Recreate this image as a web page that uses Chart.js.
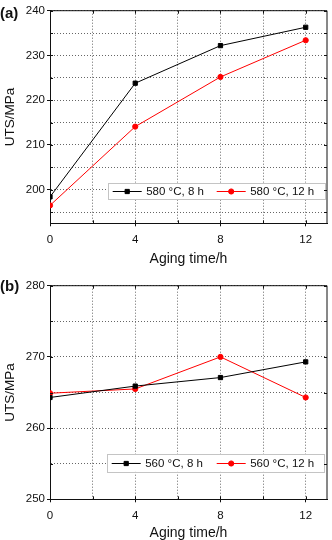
<!DOCTYPE html>
<html>
<head>
<meta charset="utf-8">
<script src="https://cdn.jsdelivr.net/npm/chart.js@4"></script>
<style>
  body { margin: 0; background: #fff; font-family: "Liberation Sans", Arial, sans-serif; }
  .panel { position: relative; width: 332px; height: 270px; }
  .panel canvas { display: block; }
  .tag { position: absolute; left: 0; font-weight: bold; font-size: 15px; color: #111; line-height: 1; }
</style>
</head>
<body>
<div class="panel"><span class="tag" style="top:5px">(a)</span><canvas id="chartA" width="332" height="270"></canvas></div>
<div class="panel"><span class="tag" style="top:8px">(b)</span><canvas id="chartB" width="332" height="270"></canvas></div>
<script>
// shared x data
const agingTime = [0, 4, 8, 12];
const xTickLabels = [0, 4, 8, 12];
const xGridValues = [0, 2, 4, 6, 8, 10, 12];

// panel (a)
const labelA8 = '580 °C, 8 h';
const labelA12 = '580 °C, 12 h';
const utsA8 = [198.4, 223.8, 232.2, 236.3];
const utsA12 = [196.5, 214.1, 225.2, 233.4];
const yTickLabelsA = [200, 210, 220, 230, 240];
const yGridValuesA = [195, 200, 205, 210, 215, 220, 225, 230, 235, 240];

// panel (b)
const labelB8 = '560 °C, 8 h';
const labelB12 = '560 °C, 12 h';
const utsB8 = [264.3, 265.9, 267.1, 269.3];
const utsB12 = [264.9, 265.5, 270.0, 264.3];
const yTickLabelsB = [250, 260, 270, 280];
const yGridValuesB = [250, 255, 260, 265, 270, 275, 280];

const FONT = '"Liberation Sans", Arial, sans-serif';

// legend box drawn inside the plot area
const boxLegend = {
  id: 'boxLegend',
  afterDatasetsDraw(chart, args, o) {
    const { ctx, chartArea } = chart;
    const x = chartArea.left + o.left;
    const y = chartArea.bottom - o.bottom - o.height;
    ctx.save();
    ctx.fillStyle = '#fff';
    ctx.fillRect(x, y, o.width, o.height);
    ctx.strokeStyle = '#c4c4c4';
    ctx.lineWidth = 1;
    ctx.strokeRect(Math.round(x) + 0.5, Math.round(y) + 0.5, Math.round(o.width), Math.round(o.height));
    const cy = Math.round(y + o.height / 2) + 0.5;
    chart.data.datasets.forEach((ds, i) => {
      const ix = x + o.items[i];
      ctx.strokeStyle = ds.borderColor;
      ctx.lineWidth = 1;
      ctx.beginPath();
      ctx.moveTo(ix, cy);
      ctx.lineTo(ix + 29, cy);
      ctx.stroke();
      ctx.fillStyle = ds.pointBackgroundColor;
      Chart.helpers.drawPoint(ctx, { pointStyle: ds.pointStyle, radius: ds.pointRadius, borderWidth: 1, rotation: 0 }, ix + 14.5, cy);
      ctx.fillStyle = '#111';
      ctx.font = '11.5px ' + FONT;
      ctx.textBaseline = 'middle';
      ctx.fillText(ds.label, ix + 33.5, cy + 0.5);
    });
    ctx.restore();
  }
};

// top/right edges of the plot box plus small inward ticks on every side
const frame = {
  id: 'frame',
  afterDraw(chart) {
    const { ctx, chartArea: a, scales } = chart;
    ctx.save();
    ctx.strokeStyle = '#111';
    ctx.lineWidth = 1;
    ctx.beginPath();
    ctx.moveTo(a.left, a.top);
    ctx.lineTo(a.right, a.top);
    ctx.lineTo(a.right, a.bottom);
    scales.x.ticks.forEach(t => {
      const px = Math.round(scales.x.getPixelForValue(t.value)) + 0.5;
      ctx.moveTo(px, a.bottom); ctx.lineTo(px, a.bottom - 3);
      ctx.moveTo(px, a.top); ctx.lineTo(px, a.top + 3);
    });
    scales.y.ticks.forEach(t => {
      const py = Math.round(scales.y.getPixelForValue(t.value)) + 0.5;
      ctx.moveTo(a.left, py); ctx.lineTo(a.left + 3, py);
      ctx.moveTo(a.right, py); ctx.lineTo(a.right - 3, py);
    });
    ctx.stroke();
    ctx.restore();
  }
};

function makeChart(id, p) {
  const majorTick = labels => c => labels.includes(c.tick && c.tick.value) ? '#111' : 'rgba(0,0,0,0)';
  return new Chart(document.getElementById(id), {
    type: 'line',
    data: {
      datasets: [{
        label: p.label8,
        data: agingTime.map((t, i) => ({ x: t, y: p.uts8[i] })),
        borderColor: '#000',
        pointBackgroundColor: '#000',
        pointBorderColor: '#000',
        pointStyle: 'rect',
        pointRadius: 3,
        borderWidth: 1,
        tension: 0
      }, {
        label: p.label12,
        data: agingTime.map((t, i) => ({ x: t, y: p.uts12[i] })),
        borderColor: '#ff0000',
        pointBackgroundColor: '#ff0000',
        pointBorderColor: '#ff0000',
        pointStyle: 'circle',
        pointRadius: 2.6,
        borderWidth: 1,
        tension: 0
      }]
    },
    options: {
      responsive: false,
      animation: false,
      layout: { padding: { left: 0, right: 2, top: p.padTop, bottom: 0 } },
      plugins: {
        legend: { display: false },
        tooltip: { enabled: false },
        boxLegend: p.legend
      },
      scales: {
        x: {
          type: 'linear',
          min: 0,
          max: 13,
          afterBuildTicks: s => { s.ticks = xGridValues.map(v => ({ value: v })); },
          afterFit: s => { s.height = p.xAxisH; },
          grid: { color: '#666', lineWidth: 1, tickLength: 3, tickColor: majorTick(xTickLabels), tickBorderDash: [] },
          border: { display: true, color: '#111', width: 1, dash: [1, 2] },
          ticks: {
            padding: 7,
            color: '#111',
            font: { family: FONT, size: 11.5 },
            maxRotation: 0,
            autoSkip: false,
            callback: v => xTickLabels.includes(v) ? String(v) : ''
          },
          title: { display: true, text: 'Aging time/h', color: '#111', font: { family: FONT, size: 14, lineHeight: 1 }, padding: { top: 0, bottom: p.xTitlePad } }
        },
        y: {
          min: p.yMin,
          max: p.yMax,
          afterBuildTicks: s => { s.ticks = p.yGrid.map(v => ({ value: v })); },
          afterFit: s => { s.width = 50; },
          grid: { color: '#666', lineWidth: 1, tickLength: 3, tickColor: majorTick(p.yLabels), tickBorderDash: [] },
          border: { display: true, color: '#111', width: 1, dash: [1, 2] },
          ticks: {
            padding: 2,
            color: '#111',
            font: { family: FONT, size: 11.5 },
            autoSkip: false,
            callback: v => p.yLabels.includes(v) ? String(v) : ''
          },
          title: { display: true, text: 'UTS/MPa', color: '#111', font: { family: FONT, size: 13.5 }, padding: { top: 2, bottom: 0 } }
        }
      }
    },
    plugins: [boxLegend, frame]
  });
}

makeChart('chartA', {
  label8: labelA8, label12: labelA12, uts8: utsA8, uts12: utsA12,
  yMin: 192.5, yMax: 240, yGrid: yGridValuesA, yLabels: yTickLabelsA,
  padTop: 10.7, xAxisH: 46.7, xTitlePad: 4.3,
  legend: { left: 58.3, bottom: 24.6, width: 216.7, height: 16, items: [4.4, 108.4] }
});

makeChart('chartB', {
  label8: labelB8, label12: labelB12, uts8: utsB8, uts12: utsB12,
  yMin: 250, yMax: 280, yGrid: yGridValuesB, yLabels: yTickLabelsB,
  padTop: 15.7, xAxisH: 40.7, xTitlePad: 0.3,
  legend: { left: 57.3, bottom: 27.6, width: 217, height: 17.7, items: [4.4, 109.4] }
});
</script>
</body>
</html>
